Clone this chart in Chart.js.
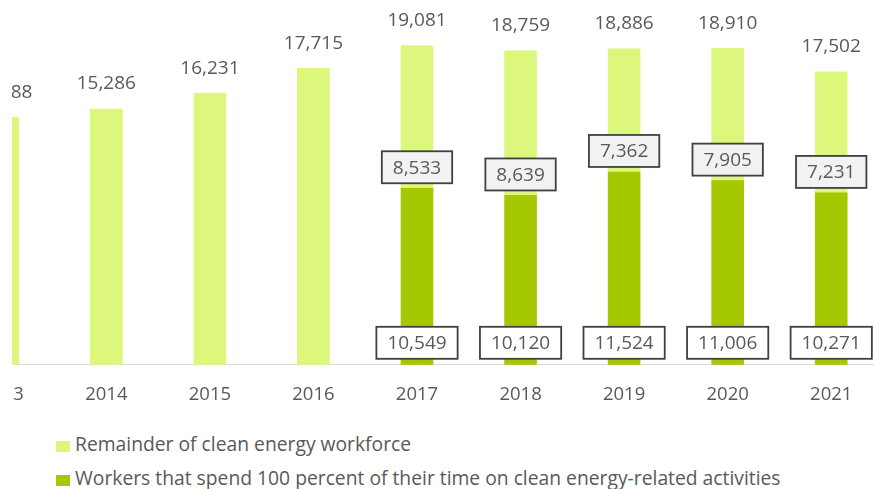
<!DOCTYPE html>
<html>
<head>
<meta charset="utf-8">
<script src="https://cdn.jsdelivr.net/npm/chart.js/dist/chart.umd.min.js"></script>
<style>
    body { margin: 0; background: #fff; font-family: "Open Sans", sans-serif; }
    #clip { position: absolute; left: 12px; top: 0; width: 862px; height: 432px; overflow: hidden; }
    #wrap { position: absolute; left: -61px; top: 0; width: 932px; height: 425px; }
    .legend-row { position: absolute; left: 56px; height: 24px; line-height: 24px; font-size: 19.3px; color: #595959; white-space: nowrap; }
    .legend-row span.box { display: inline-block; width: 14px; height: 11px; margin-right: 5px; vertical-align: -1px; }
</style>
</head>
<body>
<div id="clip">
    <div id="wrap"><canvas id="chart"></canvas></div>
</div>
<div class="legend-row" style="top:432px"><span class="box" style="background:#ddf77c"></span>Remainder of clean energy workforce</div>
<div class="legend-row" style="top:466px"><span class="box" style="background:#a4c900"></span>Workers that spend 100 percent of their time on clean energy-related activities</div>

<script>
    // Datos
    const years = ['2013', '2014', '2015', '2016', '2017', '2018', '2019', '2020', '2021'];
    const fullTime = [null, null, null, null, 10549, 10120, 11524, 11006, 10271];
    const remainder = [14788, 15286, 16231, 17715, 8533, 8639, 7362, 7905, 7231];
    const totals = [14788, 15286, 16231, 17715, 19081, 18759, 18886, 18910, 17502];

    const lightGreen = '#ddf77c';
    const darkGreen = '#a4c900';
    const textGray = '#595959';

    function fmt(v) {
        return v.toLocaleString('en-US');
    }

    // etiquetas: totales arriba, valores en cajas
    const labelPlugin = {
        id: 'labelPlugin',
        afterDatasetsDraw(chart) {
            const ctx = chart.ctx;
            const x = chart.scales.x;
            const y = chart.scales.y;
            ctx.save();
            ctx.font = '19px "Open Sans"';
            ctx.textAlign = 'center';
            ctx.textBaseline = 'middle';

            totals.forEach((t, i) => {
                const cx = x.getPixelForValue(i);
                const top = y.getPixelForValue(t);
                ctx.fillStyle = textGray;
                ctx.fillText(fmt(t), cx, top - 25);
            });

            function box(val, cx, bottom, fill) {
                const txt = fmt(val);
                const w = ctx.measureText(txt).width + 22;
                const h = 32;
                ctx.fillStyle = fill;
                ctx.fillRect(cx - w / 2, bottom - h, w, h);
                ctx.strokeStyle = '#404040';
                ctx.lineWidth = 1.8;
                ctx.strokeRect(cx - w / 2, bottom - h, w, h);
                ctx.fillStyle = textGray;
                ctx.fillText(txt, cx, bottom - h / 2 + 1);
            }

            fullTime.forEach((v, i) => {
                if (v == null) return;
                const cx = x.getPixelForValue(i);
                box(v, cx, y.getPixelForValue(0) - 6, '#ffffff');
                box(remainder[i], cx, y.getPixelForValue(v) - 5, '#f2f2f2');
            });
            ctx.restore();
        }
    };

    const chart = new Chart(document.getElementById('chart'), {
        type: 'bar',
        data: {
            labels: years,
            datasets: [
                { label: 'Workers that spend 100 percent of their time on clean energy-related activities', data: fullTime, backgroundColor: darkGreen, barThickness: 32 },
                { label: 'Remainder of clean energy workforce', data: remainder, backgroundColor: lightGreen, barThickness: 32 }
            ]
        },
        plugins: [labelPlugin],
        options: {
            responsive: true,
            maintainAspectRatio: false,
            animation: false,
            layout: { padding: 0 },
            plugins: {
                legend: { display: false },
                tooltip: { enabled: false }
            },
            scales: {
                x: {
                    stacked: true,
                    grid: { display: false, drawTicks: false },
                    border: { color: '#d9d9d9', width: 1 },
                    ticks: { color: textGray, font: { family: 'Open Sans', size: 18.5 }, padding: 19 }
                },
                y: {
                    stacked: true,
                    display: false,
                    min: 0,
                    max: 21800
                }
            }
        }
    });
</script>
</body>
</html>
